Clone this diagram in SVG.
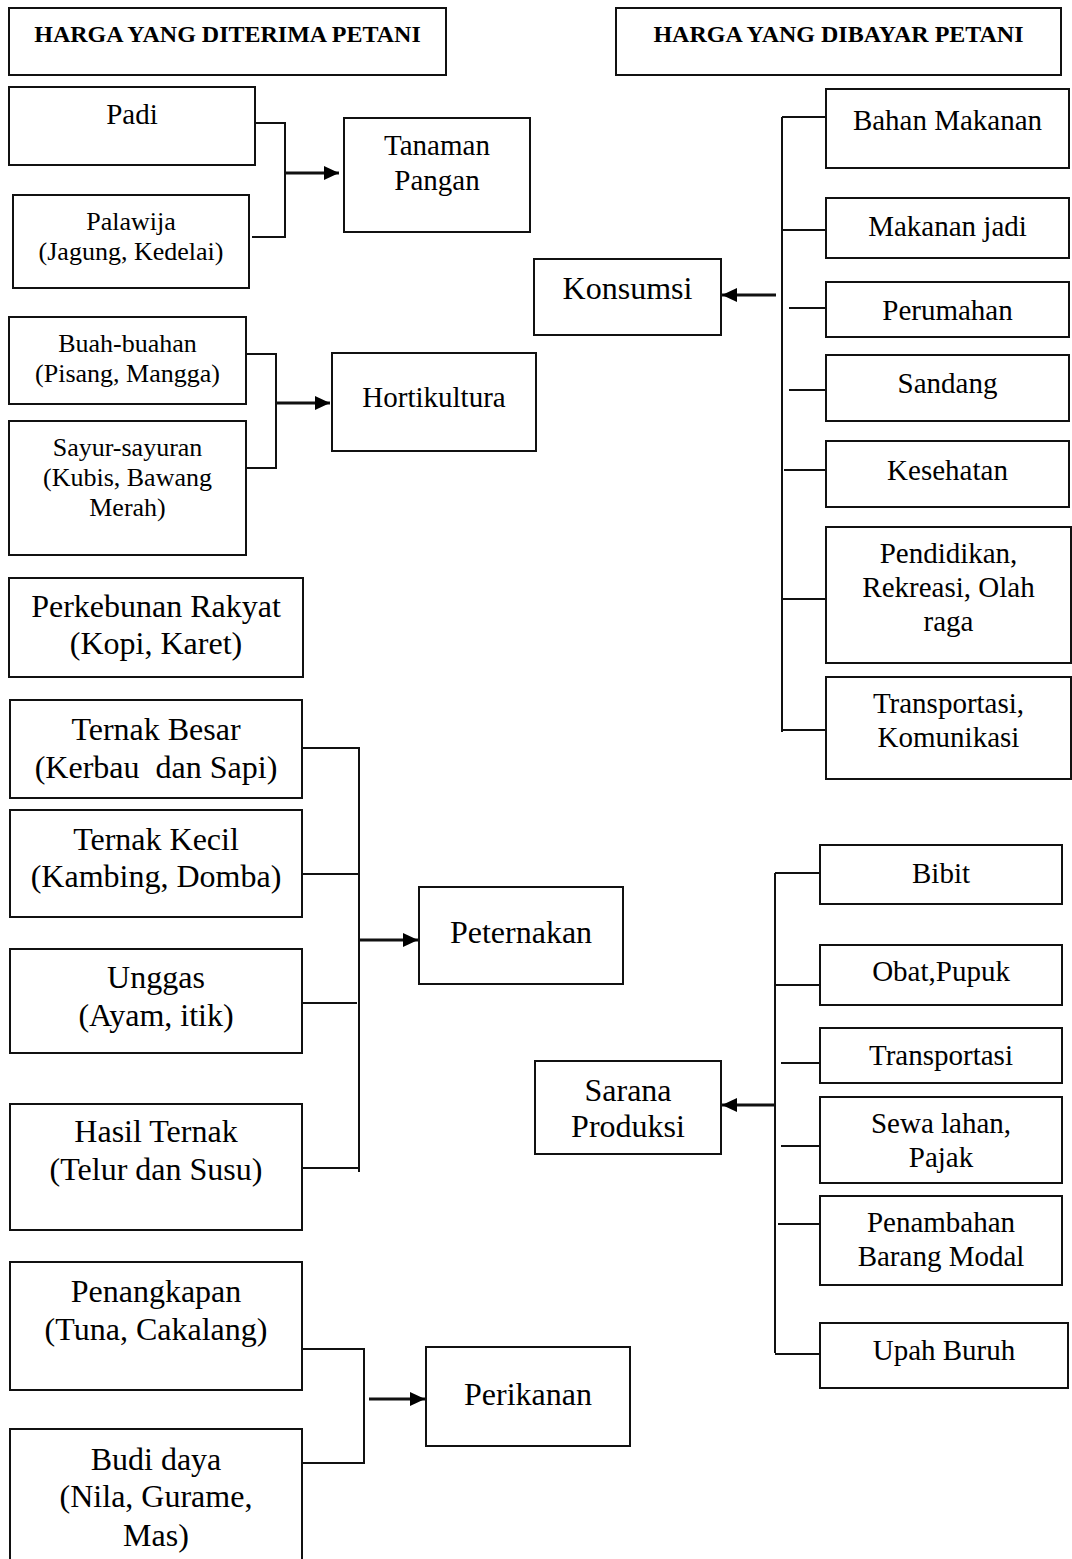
<svg xmlns="http://www.w3.org/2000/svg" width="1072" height="1559" viewBox="0 0 1072 1559">
<style>
rect{fill:#fff;stroke:#111;stroke-width:2}
text{font-family:"Liberation Serif","Times New Roman",serif;fill:#000;text-anchor:middle}
.t{font-size:24px;font-weight:bold}
.s{font-size:26px}
.m{font-size:29px}
.l{font-size:32px}
#connectors line{stroke:#111;stroke-width:2}
#connectors line.a{stroke-width:3}
</style>
<defs>
<marker id="ah" markerUnits="userSpaceOnUse" markerWidth="15" markerHeight="14" refX="15" refY="7" orient="auto">
<path d="M0,0 L15,7 L0,14 z" fill="#000"/>
</marker>
</defs>
<rect x="0" y="0" width="1072" height="1559" style="stroke:none;fill:#fff"/>

<g id="connectors">
<!-- Tanaman Pangan -->
<line x1="252" y1="123" x2="285" y2="123"/>
<line x1="252" y1="237" x2="285" y2="237"/>
<line x1="285" y1="122" x2="285" y2="238"/>
<line class="a" x1="285" y1="173" x2="339" y2="173" marker-end="url(#ah)"/>
<!-- Hortikultura -->
<line x1="244" y1="354" x2="276" y2="354"/>
<line x1="244" y1="468" x2="276" y2="468"/>
<line x1="276" y1="353" x2="276" y2="469"/>
<line class="a" x1="276" y1="403" x2="330" y2="403" marker-end="url(#ah)"/>
<!-- Peternakan -->
<line x1="303" y1="748" x2="359" y2="748"/>
<line x1="303" y1="874" x2="359" y2="874"/>
<line x1="301" y1="1003" x2="357" y2="1003"/>
<line x1="297" y1="1168" x2="359" y2="1168"/>
<line x1="359" y1="747" x2="359" y2="1172"/>
<line class="a" x1="360" y1="940" x2="418" y2="940" marker-end="url(#ah)"/>
<!-- Perikanan -->
<line x1="302" y1="1349" x2="364" y2="1349"/>
<line x1="302" y1="1463" x2="364" y2="1463"/>
<line x1="364" y1="1348" x2="364" y2="1464"/>
<line class="a" x1="369" y1="1399" x2="425" y2="1399" marker-end="url(#ah)"/>
<!-- Konsumsi -->
<line x1="782" y1="117" x2="782" y2="732"/>
<line x1="782" y1="117" x2="826" y2="117"/>
<line x1="782" y1="230" x2="826" y2="230"/>
<line x1="789" y1="308" x2="826" y2="308"/>
<line x1="789" y1="390" x2="826" y2="390"/>
<line x1="784" y1="470" x2="826" y2="470"/>
<line x1="782" y1="599" x2="826" y2="599"/>
<line x1="782" y1="730" x2="826" y2="730"/>
<line class="a" x1="776" y1="295" x2="722" y2="295" marker-end="url(#ah)"/>
<!-- Sarana Produksi -->
<line x1="775" y1="873" x2="775" y2="1353"/>
<line x1="775" y1="873" x2="820" y2="873"/>
<line x1="775" y1="985" x2="820" y2="985"/>
<line x1="781" y1="1063" x2="820" y2="1063"/>
<line x1="781" y1="1146" x2="820" y2="1146"/>
<line x1="778" y1="1224" x2="820" y2="1224"/>
<line x1="775" y1="1354" x2="820" y2="1354"/>
<line class="a" x1="775" y1="1105" x2="722" y2="1105" marker-end="url(#ah)"/>
</g>

<g id="title-left"><rect x="9" y="8" width="437" height="67"/><text class="t" x="227.5" y="42">HARGA YANG DITERIMA PETANI</text></g>
<g id="title-right"><rect x="616" y="8" width="445" height="67"/><text class="t" x="838.5" y="42">HARGA YANG DIBAYAR PETANI</text></g>

<g id="padi"><rect x="9" y="87" width="246" height="78"/><text class="m" x="132" y="124">Padi</text></g>
<g id="palawija"><rect x="13" y="195" width="236" height="93"/><text class="s" x="131" y="230">Palawija</text><text class="s" x="131" y="260">(Jagung, Kedelai)</text></g>
<g id="tanaman-pangan"><rect x="344" y="118" width="186" height="114"/><text class="m" x="437" y="155">Tanaman</text><text class="m" x="437" y="190">Pangan</text></g>

<g id="buah"><rect x="9" y="317" width="237" height="87"/><text class="s" x="127.5" y="352">Buah-buahan</text><text class="s" x="127.5" y="382">(Pisang, Mangga)</text></g>
<g id="sayur"><rect x="9" y="421" width="237" height="134"/><text class="s" x="127.5" y="456">Sayur-sayuran</text><text class="s" x="127.5" y="486">(Kubis, Bawang</text><text class="s" x="127.5" y="516">Merah)</text></g>
<g id="hortikultura"><rect x="332" y="353" width="204" height="98"/><text class="m" x="434" y="407">Hortikultura</text></g>

<g id="perkebunan"><rect x="9" y="578" width="294" height="99"/><text class="l" x="156" y="617">Perkebunan Rakyat</text><text class="l" x="156" y="654">(Kopi, Karet)</text></g>

<g id="ternak-besar"><rect x="10" y="700" width="292" height="98"/><text class="l" x="156" y="740">Ternak Besar</text><text class="l" x="156" y="778" xml:space="preserve">(Kerbau  dan Sapi)</text></g>
<g id="ternak-kecil"><rect x="10" y="810" width="292" height="107"/><text class="l" x="156" y="850">Ternak Kecil</text><text class="l" x="156" y="887">(Kambing, Domba)</text></g>
<g id="unggas"><rect x="10" y="949" width="292" height="104"/><text class="l" x="156" y="988">Unggas</text><text class="l" x="156" y="1026">(Ayam, itik)</text></g>
<g id="hasil-ternak"><rect x="10" y="1104" width="292" height="126"/><text class="l" x="156" y="1142">Hasil Ternak</text><text class="l" x="156" y="1180">(Telur dan Susu)</text></g>
<g id="peternakan"><rect x="419" y="887" width="204" height="97"/><text class="l" x="521" y="943">Peternakan</text></g>

<g id="penangkapan"><rect x="10" y="1262" width="292" height="128"/><text class="l" x="156" y="1302">Penangkapan</text><text class="l" x="156" y="1340">(Tuna, Cakalang)</text></g>
<g id="budi-daya"><rect x="10" y="1429" width="292" height="145"/><text class="l" x="156" y="1470">Budi daya</text><text class="l" x="156" y="1507">(Nila, Gurame,</text><text class="l" x="156" y="1546">Mas)</text></g>
<g id="perikanan"><rect x="426" y="1347" width="204" height="99"/><text class="l" x="528" y="1405">Perikanan</text></g>

<g id="konsumsi"><rect x="534" y="259" width="187" height="76"/><text class="l" x="627.5" y="299">Konsumsi</text></g>
<g id="bahan-makanan"><rect x="826" y="89" width="243" height="79"/><text class="m" x="947.5" y="130">Bahan Makanan</text></g>
<g id="makanan-jadi"><rect x="826" y="198" width="243" height="60"/><text class="m" x="947.5" y="236">Makanan jadi</text></g>
<g id="perumahan"><rect x="826" y="282" width="243" height="55"/><text class="m" x="947.5" y="320">Perumahan</text></g>
<g id="sandang"><rect x="826" y="355" width="243" height="66"/><text class="m" x="947.5" y="393">Sandang</text></g>
<g id="kesehatan"><rect x="826" y="441" width="243" height="66"/><text class="m" x="947.5" y="480">Kesehatan</text></g>
<g id="pendidikan"><rect x="826" y="527" width="245" height="136"/><text class="m" x="948.5" y="563">Pendidikan,</text><text class="m" x="948.5" y="597">Rekreasi, Olah</text><text class="m" x="948.5" y="631">raga</text></g>
<g id="transportasi-komunikasi"><rect x="826" y="677" width="245" height="102"/><text class="m" x="948.5" y="713">Transportasi,</text><text class="m" x="948.5" y="747">Komunikasi</text></g>

<g id="sarana-produksi"><rect x="535" y="1061" width="186" height="93"/><text class="l" x="628" y="1101">Sarana</text><text class="l" x="628" y="1137">Produksi</text></g>
<g id="bibit"><rect x="820" y="845" width="242" height="59"/><text class="m" x="941" y="883">Bibit</text></g>
<g id="obat-pupuk"><rect x="820" y="945" width="242" height="60"/><text class="m" x="941" y="981">Obat,Pupuk</text></g>
<g id="transportasi"><rect x="820" y="1028" width="242" height="55"/><text class="m" x="941" y="1065">Transportasi</text></g>
<g id="sewa-lahan"><rect x="820" y="1097" width="242" height="86"/><text class="m" x="941" y="1133">Sewa lahan,</text><text class="m" x="941" y="1167">Pajak</text></g>
<g id="penambahan"><rect x="820" y="1196" width="242" height="89"/><text class="m" x="941" y="1232">Penambahan</text><text class="m" x="941" y="1266">Barang Modal</text></g>
<g id="upah-buruh"><rect x="820" y="1323" width="248" height="65"/><text class="m" x="944" y="1360">Upah Buruh</text></g>
</svg>
